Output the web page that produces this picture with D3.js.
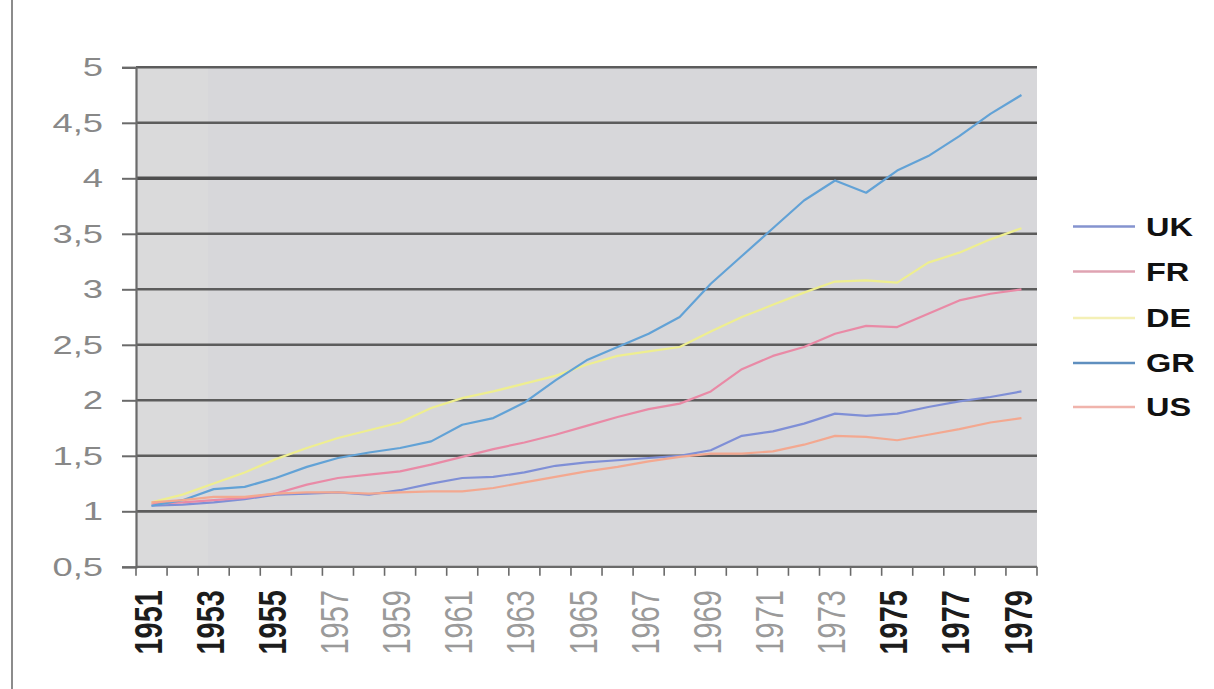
<!DOCTYPE html>
<html><head><meta charset="utf-8">
<script src="https://cdn.jsdelivr.net/npm/d3@7"></script>
<style>
html,body{margin:0;padding:0;background:#fff;}
svg{display:block;font-family:"Liberation Sans",Arial,sans-serif;}
</style></head>
<body>
<svg id="chart" width="1214" height="689"></svg>
<script>
const years = [1951,1952,1953,1954,1955,1956,1957,1958,1959,1960,1961,1962,1963,1964,1965,1966,1967,1968,1969,1970,1971,1972,1973,1974,1975,1976,1977,1978,1979];
const xTickLabels = ["1951","1953","1955","1957","1959","1961","1963","1965","1967","1969","1971","1973","1975","1977","1979"];
const yTicks = [0.5,1,1.5,2,2.5,3,3.5,4,4.5,5];
const seriesNames = ["UK","FR","DE","GR","US"];
const UK = [1.05,1.06,1.08,1.11,1.15,1.16,1.17,1.15,1.19,1.25,1.30,1.31,1.35,1.41,1.44,1.46,1.48,1.50,1.55,1.68,1.72,1.79,1.88,1.86,1.88,1.94,1.99,2.03,2.08];
const FR = [1.07,1.08,1.10,1.12,1.16,1.24,1.30,1.33,1.36,1.42,1.49,1.56,1.62,1.69,1.77,1.85,1.92,1.97,2.08,2.28,2.40,2.48,2.60,2.67,2.66,2.78,2.90,2.96,3.00];
const DE = [1.08,1.15,1.25,1.35,1.47,1.57,1.66,1.73,1.80,1.93,2.02,2.08,2.15,2.22,2.32,2.40,2.44,2.48,2.62,2.75,2.86,2.97,3.07,3.08,3.06,3.24,3.33,3.45,3.55];
const GR = [1.05,1.10,1.20,1.22,1.30,1.40,1.48,1.53,1.57,1.63,1.78,1.84,1.98,2.18,2.36,2.48,2.60,2.75,3.05,3.30,3.55,3.80,3.98,3.87,4.07,4.20,4.38,4.58,4.75];
const US = [1.08,1.10,1.13,1.13,1.16,1.17,1.17,1.16,1.17,1.18,1.18,1.21,1.26,1.31,1.36,1.40,1.45,1.49,1.52,1.52,1.54,1.60,1.68,1.67,1.64,1.69,1.74,1.80,1.84];
const seriesValues = [UK, FR, DE, GR, US];
const seriesColors = ["#7f8fd6","#e98aa6","#eeee90","#62a2d6","#f3a890"];
const legendColors = ["#8593cf","#dfa3b2","#f4f0b6","#5f8fbf","#f0b4ac"];

const svg = d3.select("#chart");
const L = 136, R = 1037, T = 67.3, B = 566.8;
const x = d3.scaleBand().domain(years).range([L, R]).padding(0);
const y = d3.scaleLinear().domain([0.5, 5]).range([B, T]);
const bw = x.bandwidth();

// left page border
svg.append("line").attr("x1",12).attr("x2",12).attr("y1",0).attr("y2",689)
  .attr("stroke","#8c8c8c").attr("stroke-width",2);

// plot background
svg.append("rect").attr("x",L).attr("y",T).attr("width",R-L).attr("height",B-T).attr("fill","#d7d7da");
svg.append("rect").attr("x",L).attr("y",T).attr("width",72).attr("height",B-T).attr("fill","#dadadb");

// gridlines
svg.append("g").selectAll("line").data(yTicks.filter(v=>v>0.5)).join("line")
  .attr("x1",L).attr("x2",R).attr("y1",d=>y(d)).attr("y2",d=>y(d))
  .attr("stroke",d=>d===4?"#4e4e4e":"#5c5c5c")
  .attr("stroke-width",d=>d===4?3.6:(d===1?2.8:2.4));

// y axis
const yAxis = d3.axisLeft(y).tickValues(yTicks).tickSize(14).tickPadding(0)
  .tickFormat(d=>String(d).replace(".",","));
const gy = svg.append("g").attr("transform",`translate(${L},0)`).call(yAxis);
gy.select(".domain").attr("stroke","#6a6a6a").attr("stroke-width",2.2);
gy.selectAll(".tick line").attr("stroke","#6a6a6a").attr("stroke-width",2);
gy.selectAll(".tick text").remove();
svg.append("g").selectAll("text").data(yTicks).join("text")
  .attr("transform",d=>`translate(103,${y(d)+9}) scale(1.4,1)`)
  .attr("text-anchor","end").attr("font-size",26).attr("fill","#888")
  .text(d=>String(d).replace(".",","));

// x axis
svg.append("line").attr("x1",L).attr("x2",R).attr("y1",B).attr("y2",B)
  .attr("stroke","#6a6a6a").attr("stroke-width",2.2);
svg.append("g").selectAll("line").data(years.concat(["end"])).join("line")
  .attr("x1",d=>d==="end"?R:x(d)).attr("x2",d=>d==="end"?R:x(d))
  .attr("y1",B).attr("y2",B+9).attr("stroke","#6a6a6a").attr("stroke-width",1.6);
const grayYears = new Set(["1957","1959","1961","1963","1965","1967","1969","1971","1973"]);
svg.append("g").selectAll("text").data(xTickLabels).join("text")
  .attr("transform",d=>`translate(${x(+d)+bw/2-4},590) scale(1.35,1) rotate(-90)`)
  .attr("text-anchor","end").attr("dy","0.36em").attr("font-size",29)
  .attr("font-weight",d=>grayYears.has(d)?"normal":"bold")
  .attr("fill",d=>grayYears.has(d)?"#9a9a9a":"#1c1c1c")
  .text(d=>d);

// lines
const line = d3.line().x((d,i)=>x(years[i])+bw/2).y(d=>y(d));
svg.append("g").selectAll("path").data(seriesValues).join("path")
  .attr("d",d=>line(d)).attr("fill","none")
  .attr("stroke",(d,i)=>seriesColors[i]).attr("stroke-width",2.2)
  .attr("stroke-linejoin","round");

// legend
const legY = [226.5,271.5,318,363,407];
const lg = svg.append("g").selectAll("g").data(seriesNames).join("g")
  .attr("transform",(d,i)=>`translate(1073,${legY[i]})`);
lg.append("line").attr("x1",0).attr("x2",62).attr("y1",0).attr("y2",0)
  .attr("stroke",(d,i)=>legendColors[i]).attr("stroke-width",2.6);
lg.append("text").attr("transform","translate(73,9) scale(1.3,1)")
  .attr("font-size",25).attr("font-weight","bold").attr("fill","#111").text(d=>d);
</script>
</body></html>
